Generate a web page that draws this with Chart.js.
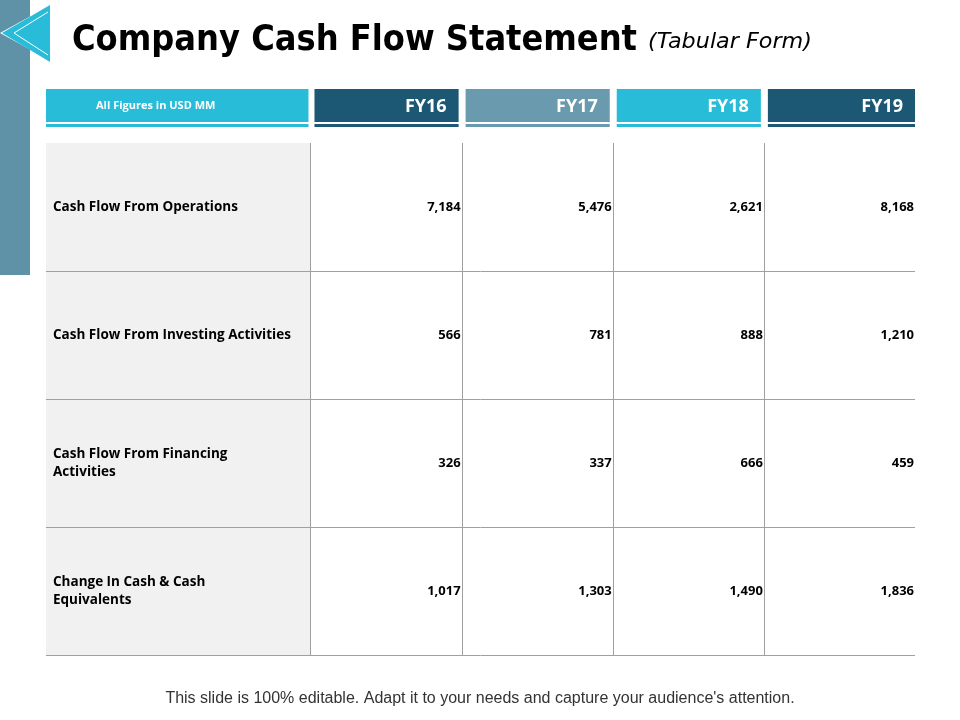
<!DOCTYPE html>
<html><head><meta charset="utf-8">
<script src="https://cdn.jsdelivr.net/npm/chart.js@4/dist/chart.umd.min.js"></script>
<style>html,body{margin:0;padding:0;background:#fff}#wrap{width:960px;height:720px}</style>
</head><body><div id="wrap"><canvas id="c" width="960" height="720"></canvas></div>
<script>
const headerLabel = "All Figures in USD MM";
const years = ["FY16","FY17","FY18","FY19"];
const rowLabels = [["Cash Flow From Operations"],["Cash Flow From Investing Activities"],["Cash Flow From Financing","Activities"],["Change In Cash & Cash","Equivalents"]];
const fy16 = [7184,566,326,1017];
const fy17 = [5476,781,337,1303];
const fy18 = [2621,888,666,1490];
const fy19 = [8168,1210,459,1836];
const series = [fy16,fy17,fy18,fy19];
const headColors = ["#1C5874","#6A9AAD","#29BCD8","#1C5874"];
const colEdges = [0,1.75,2.75,3.75,4.75,5.75];

const tablePlugin = {
  id:'table',
  beforeDraw(chart){
    const ctx=chart.ctx, xs=chart.scales.x, ys=chart.scales.y;
    const X=v=>xs.getPixelForValue(v), Y=v=>ys.getPixelForValue(v);
    ctx.save();
    ctx.fillStyle='#fff';ctx.fillRect(0,0,960,720);
    ctx.fillStyle='#5F91A7';ctx.fillRect(0,0,30,275);
    ctx.fillStyle='#fff';ctx.beginPath();ctx.moveTo(0,33);ctx.lineTo(60,0);ctx.lineTo(60,66);ctx.closePath();ctx.fill();
    ctx.fillStyle='#29BCD8';ctx.beginPath();ctx.moveTo(2,33);ctx.lineTo(50,5);ctx.lineTo(50,62);ctx.closePath();ctx.fill();
    ctx.strokeStyle='#fff';ctx.lineWidth=1;ctx.beginPath();ctx.moveTo(48,12);ctx.lineTo(14,33);ctx.lineTo(48,55);ctx.stroke();
    ctx.fillStyle='#000';ctx.textBaseline='alphabetic';ctx.textAlign='left';
    ctx.font='bold 36px "DejaVu Sans"';
    const t="Company Cash Flow Statement";
    const w=ctx.measureText(t).width;
    ctx.save();ctx.translate(72,50);ctx.scale(565/w,1);ctx.fillText(t,0,0);ctx.restore();
    ctx.font='italic 22px "DejaVu Sans"';
    const t2="(Tabular Form)";const w2=ctx.measureText(t2).width;
    ctx.save();ctx.translate(648,48);ctx.scale(164/w2,1);ctx.fillText(t2,0,0);ctx.restore();
    const hx=[[X(0),X(colEdges[1])-2]];
    for(let i=0;i<4;i++) hx.push([X(colEdges[i+1])+4,X(colEdges[i+2])-(i<3?3:0)]);
    hx.forEach((p,i)=>{
      const col=i===0?'#29BCD8':headColors[i-1];
      ctx.fillStyle=col;ctx.fillRect(p[0],89,p[1]-p[0],33);
      ctx.fillRect(p[0],124,p[1]-p[0],3);
      ctx.fillStyle='#fff';
      if(i===0){ctx.font='bold 11px "Open Sans"';ctx.textAlign='left';ctx.textBaseline='middle';ctx.fillText(headerLabel,96,106);}
      else{ctx.font='bold 18px "Open Sans"';ctx.textAlign='right';ctx.textBaseline='middle';ctx.fillText(years[i-1],p[1]-12,107);}
    });
    ctx.fillStyle='#F1F1F1';ctx.fillRect(X(0),Y(0),X(1.75)-X(0),Y(4)-Y(0));
    ctx.strokeStyle='#A0A0A0';ctx.lineWidth=1;
    for(let i=1;i<5;i++){const x=Math.round(X(colEdges[i]))+0.5;ctx.beginPath();ctx.moveTo(x,Y(0));ctx.lineTo(x,Y(4));ctx.stroke();}
    for(let r=1;r<=4;r++){const y=Math.round(Y(r))+0.5;ctx.beginPath();ctx.moveTo(X(0),y);ctx.lineTo(X(5.75),y);ctx.stroke();}
    ctx.fillStyle='#000';ctx.textBaseline='middle';
    rowLabels.forEach((lines,r)=>{
      const yc=Y(r+0.5);ctx.font='bold 13.5px "Open Sans"';ctx.textAlign='left';
      lines.forEach((l,k)=>ctx.fillText(l,53,yc+(k-(lines.length-1)/2)*18));
      series.forEach((s,c)=>{ctx.font='bold 13px "Open Sans"';ctx.textAlign='right';
        ctx.fillText(s[r].toLocaleString('en-US'),X(colEdges[c+2])-1,yc);});
    });
    ctx.fillStyle='#333';ctx.font='16px "Liberation Sans"';ctx.textAlign='center';
    ctx.fillText("This slide is 100% editable. Adapt it to your needs and capture your audience's attention.",480,699);
    ctx.restore();
  }
};
new Chart(document.getElementById('c'),{
  type:'scatter',
  data:{datasets:[{data:[],pointRadius:0}]},
  options:{responsive:false,animation:false,
    layout:{padding:{left:46,right:45,top:143,bottom:65}},
    plugins:{legend:{display:false},tooltip:{enabled:false}},
    scales:{x:{type:'linear',min:0,max:5.75,display:false},y:{type:'linear',min:0,max:4,reverse:true,display:false}}},
  plugins:[tablePlugin]
});
</script></body></html>
